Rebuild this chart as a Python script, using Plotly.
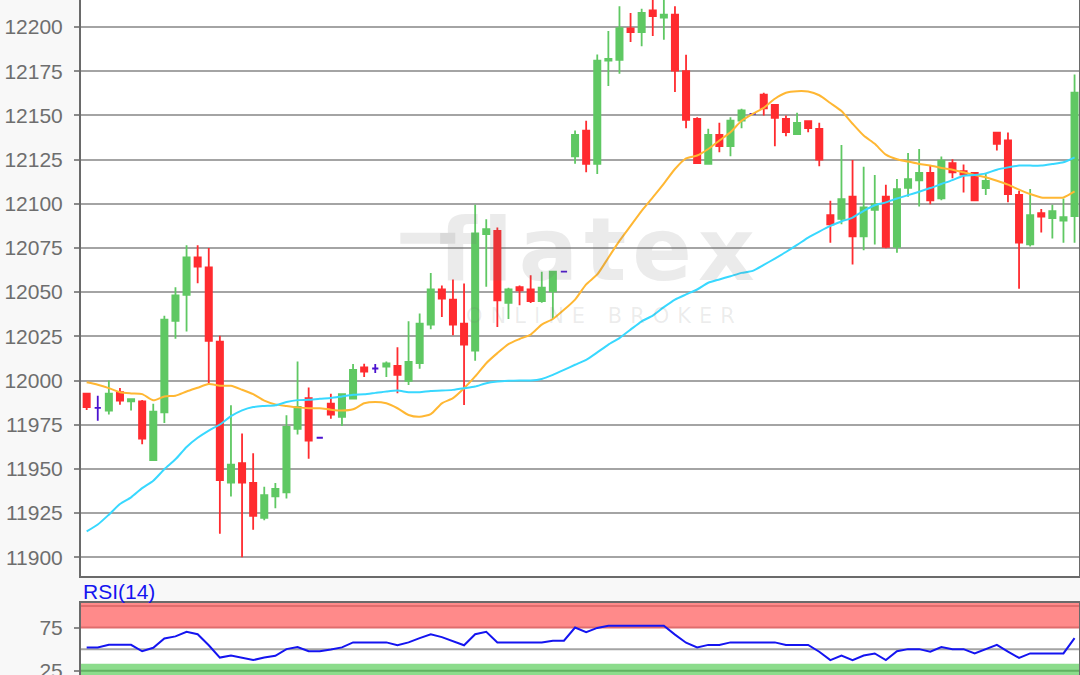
import plotly.graph_objects as go
from plotly.subplots import make_subplots

# index candles by position, the chart has no x labels
opens = [11992.5, 11984.5, 11983.0, 11993.4, 11988.2, 11988.2, 11954.9, 11982.0, 12033.8, 12048.5,
         12069.7, 12064.0, 12022.0, 11942.3, 11953.2, 11942.0, 11922.3, 11934.4, 11936.7, 11972.7,
         11990.0, 11967.6, 11986.9, 11979.4, 11989.7, 12007.4, 12006.8, 12007.8, 12008.3, 11999.8,
         12009.8, 12031.6, 12051.5, 12045.8, 12032.2, 12016.9, 12082.8, 12084.7, 12044.0, 12052.8,
         12051.5, 12044.9, 12050.4, 12061.6, 12126.9, 12141.4, 12122.6, 12181.0, 12181.5, 12199.2,
         12197.2, 12209.4, 12205.3, 12207.0, 12175.0, 12148.0, 12122.6, 12139.0, 12132.6, 12147.0,
         12150.9, 12161.7, 12156.0, 12148.0, 12139.4, 12146.7, 12142.4, 12093.6, 12091.5, 12104.0,
         12081.6, 12096.6, 12104.0, 12075.6, 12109.0, 12113.3, 12117.4, 12103.0, 12123.0, 12118.4,
         12117.4, 12108.9, 12140.2, 12135.8, 12105.0, 12077.0, 12094.7, 12091.9, 12090.5, 12093.0]
highs = [11992.5, 11991.4, 12000.0, 11995.7, 11990.0, 11989.0, 11986.9, 12036.6, 12052.7, 12076.5,
         12076.5, 12075.0, 12025.3, 11986.0, 11970.0, 11958.8, 11939.9, 11942.0, 11980.3, 12010.7,
         11996.0, 11967.6, 11992.5, 11992.3, 12009.4, 12009.5, 12009.3, 12010.8, 12018.8, 12033.5,
         12037.9, 12060.8, 12053.8, 12057.2, 12054.9, 12099.4, 12091.3, 12086.6, 12052.5, 12053.8,
         12059.5, 12061.6, 12061.6, 12061.6, 12141.4, 12147.0, 12184.5, 12197.7, 12211.7, 12208.0,
         12210.4, 12216.0, 12216.0, 12211.7, 12184.3, 12149.0, 12142.4, 12145.8, 12149.0, 12153.7,
         12150.9, 12162.8, 12156.0, 12150.0, 12151.5, 12146.7, 12145.8, 12101.7, 12133.3, 12124.8,
         12121.0, 12116.3, 12110.8, 12114.0, 12128.8, 12131.0, 12121.4, 12126.7, 12125.2, 12122.2,
         12117.4, 12116.9, 12140.2, 12140.3, 12107.4, 12108.3, 12097.0, 12099.4, 12103.0, 12173.1]
lows = [11983.3, 11977.3, 11980.7, 11986.3, 11983.0, 11963.9, 11954.9, 11976.0, 12023.6, 12027.8,
        12055.0, 11998.0, 11913.3, 11934.4, 11900.0, 11915.5, 11921.0, 11927.7, 11933.3, 11969.5,
        11955.8, 11967.6, 11978.3, 11974.2, 11989.7, 12002.0, 12004.2, 12002.0, 11992.8, 11997.5,
        12006.6, 12029.0, 12036.0, 12025.6, 11986.2, 12011.2, 12053.0, 12030.3, 12034.8, 12042.6,
        12043.9, 12044.0, 12034.8, 12061.6, 12122.6, 12117.8, 12116.9, 12166.6, 12173.6, 12191.5,
        12189.2, 12194.9, 12192.8, 12163.2, 12142.8, 12122.6, 12122.6, 12129.2, 12126.9, 12142.8,
        12150.9, 12150.0, 12132.6, 12138.2, 12139.4, 12140.5, 12121.2, 12078.0, 12088.4, 12065.7,
        12073.7, 12077.0, 12074.8, 12072.3, 12104.0, 12098.5, 12099.8, 12102.0, 12114.4, 12106.4,
        12102.0, 12105.0, 12130.1, 12100.8, 12051.9, 12075.8, 12083.7, 12080.3, 12078.0, 12078.0]
closes = [11985.0, 11984.5, 11992.5, 11988.6, 11989.5, 11967.2, 11982.4, 12034.4, 12048.2, 12069.7,
          12064.4, 12022.5, 11943.6, 11952.4, 11942.3, 11923.4, 11935.2, 11938.6, 11973.8, 11985.0,
          11966.0, 11967.6, 11980.7, 11992.3, 12006.0, 12005.0, 12006.8, 12009.7, 12003.2, 12010.6,
          12032.2, 12051.5, 12046.4, 12031.6, 12020.3, 12083.3, 12085.6, 12045.3, 12051.5, 12051.0,
          12044.9, 12052.5, 12061.6, 12061.6, 12139.0, 12122.6, 12181.0, 12182.0, 12199.4, 12197.2,
          12208.0, 12206.2, 12207.0, 12175.4, 12147.5, 12123.0, 12139.0, 12132.6, 12147.0, 12152.8,
          12150.9, 12154.0, 12148.6, 12140.5, 12145.8, 12142.8, 12125.0, 12088.4, 12102.6, 12081.6,
          12097.9, 12099.8, 12075.6, 12108.3, 12114.0, 12117.4, 12102.0, 12124.4, 12117.8, 12116.5,
          12102.0, 12112.9, 12133.9, 12105.5, 12078.0, 12093.6, 12092.8, 12095.8, 12092.4, 12162.9]

ma_orange = [11999.0, 11997.6, 11995.7, 11993.4, 11992.7, 11992.3, 11988.8, 11991.0, 11991.4, 11993.8,
             11995.9, 11998.0, 11997.0, 11997.0, 11994.8, 11992.3, 11988.6, 11986.5, 11985.6, 11984.8,
             11984.3, 11984.3, 11983.5, 11983.0, 11983.7, 11987.1, 11987.9, 11987.1, 11984.3, 11980.5,
             11979.5, 11981.0, 11987.1, 11990.0, 11995.6, 12002.3, 12009.8, 12015.5, 12020.6, 12023.5,
             12026.0, 12031.6, 12034.8, 12040.0, 12045.8, 12054.4, 12060.0, 12069.5, 12079.0, 12087.5,
             12096.0, 12103.6, 12111.4, 12119.7, 12125.7, 12127.3, 12131.0, 12135.8, 12140.5, 12147.0,
             12150.9, 12154.3, 12159.4, 12162.8, 12163.7, 12163.5, 12161.4, 12157.0, 12152.5, 12145.3,
             12138.6, 12133.9, 12127.8, 12125.2, 12123.9, 12122.5, 12121.6, 12120.3, 12119.3, 12117.8,
             12116.3, 12115.0, 12113.0, 12110.8, 12108.0, 12105.5, 12103.6, 12103.4, 12103.6, 12107.0]
ma_cyan = [11914.6, 11918.5, 11924.1, 11930.1, 11933.9, 11939.1, 11943.3, 11949.8, 11955.4, 11962.4,
           11967.6, 11971.7, 11975.1, 11979.8, 11983.1, 11985.0, 11985.6, 11986.0, 11987.8, 11988.9,
           11989.1, 11989.7, 11990.1, 11991.0, 11991.9, 11992.2, 11993.0, 11993.8, 11994.3, 11993.4,
           11993.4, 11994.1, 11994.3, 11994.7, 11995.6, 11996.6, 11998.5, 11999.4, 11999.8, 12000.0,
           12000.0, 12000.9, 12003.2, 12006.0, 12008.9, 12011.7, 12015.9, 12020.3, 12024.0, 12028.8,
           12033.5, 12036.7, 12041.5, 12045.8, 12048.7, 12051.5, 12055.3, 12057.2, 12059.0, 12060.9,
           12062.0, 12065.4, 12069.0, 12072.7, 12076.7, 12080.9, 12084.3, 12087.5, 12090.0, 12092.2,
           12096.0, 12099.2, 12100.8, 12103.0, 12104.9, 12106.8, 12108.9, 12111.2, 12113.4, 12115.9,
           12116.3, 12117.2, 12119.3, 12120.6, 12121.6, 12121.6, 12121.6, 12122.5, 12123.5, 12126.3]
rsi = [52, 52, 55, 55, 55, 47.5, 51.6, 62.3, 64.8, 70,
       67.2, 54.5, 40.2, 42.6, 40.2, 37.3, 40.2, 42.2, 50, 52.5,
       47.5, 47.5, 49.6, 52, 57.8, 57.8, 57.8, 57.8, 54.5, 57.8,
       62.7, 67.2, 63.9, 59.4, 54.5, 67.2, 70, 57.8, 57.8, 57.8,
       57.8, 57.6, 59.8, 59.8, 75, 69.7, 74.6, 77, 77, 77,
       77, 77, 77, 66.8, 57.4, 52, 54.9, 54.9, 57.8, 57.8,
       57.8, 57.8, 57.8, 54.9, 54.9, 54.9, 47, 37.3, 42.6, 37.3,
       42.6, 45, 37.3, 47.5, 50, 50, 47, 52.5, 50, 50,
       45, 50, 54.9, 47, 39.8, 45, 45, 45, 45, 62.7]

price_ticks = [11900, 11925, 11950, 11975, 12000, 12025, 12050, 12075, 12100, 12125, 12150, 12175, 12200]
rsi_ticks = [25, 75]

idx = list(range(len(opens)))
flat = [i for i in idx if opens[i] == closes[i]]
moved = [i for i in idx if opens[i] != closes[i]]

GREEN = "#5fc863"
RED = "#ff2b2f"
PURPLE = "#4b12cf"
AXIS = "#6a6a6a"
GRID = "#a4a4a4"
TEXT = "#6e6e6e"
FONT = "Liberation Sans"

fig = make_subplots(rows=2, cols=1, shared_xaxes=False)

fig.add_trace(go.Candlestick(
    x=moved,
    open=[opens[i] for i in moved], high=[highs[i] for i in moved],
    low=[lows[i] for i in moved], close=[closes[i] for i in moved],
    increasing=dict(line=dict(color=GREEN, width=1.8), fillcolor=GREEN),
    decreasing=dict(line=dict(color=RED, width=1.8), fillcolor=RED),
    showlegend=False), row=1, col=1)
fig.add_trace(go.Candlestick(
    x=flat,
    open=[opens[i] for i in flat], high=[highs[i] for i in flat],
    low=[lows[i] for i in flat], close=[closes[i] for i in flat],
    increasing=dict(line=dict(color=PURPLE, width=1.8), fillcolor=PURPLE),
    decreasing=dict(line=dict(color=PURPLE, width=1.8), fillcolor=PURPLE),
    showlegend=False), row=1, col=1)
fig.add_trace(go.Scatter(x=idx, y=ma_orange, mode="lines",
                         line=dict(color="#ffb733", width=2, shape="spline", smoothing=0.6),
                         showlegend=False), row=1, col=1)
fig.add_trace(go.Scatter(x=idx, y=ma_cyan, mode="lines",
                         line=dict(color="#38d8ff", width=2, shape="spline", smoothing=0.6),
                         showlegend=False), row=1, col=1)
fig.add_trace(go.Scatter(x=idx, y=rsi, mode="lines", line=dict(color="#1414f0", width=2),
                         showlegend=False), row=2, col=1)

# overbought / oversold bands
fig.add_shape(type="rect", xref="x2 domain", yref="y2", x0=0, x1=1, y0=75, y1=104,
              fillcolor="#ff8a8a", line_width=0, layer="below")
fig.add_shape(type="rect", xref="x2 domain", yref="y2", x0=0, x1=1, y0=15, y1=33,
              fillcolor="#8cdc8c", line_width=0, layer="below")
for level, colour in [(100, "#e06c6c"), (75, "#e06c6c"), (50, GRID), (25, "#62b262")]:
    fig.add_shape(type="line", xref="x2 domain", yref="y2", x0=0, x1=1, y0=level, y1=level,
                  line=dict(color=colour, width=2), layer="below")

# watermark
fig.add_annotation(xref="paper", yref="paper", x=0.52, y=0.63, text="flatex", showarrow=False,
                   font=dict(family="DejaVu Sans", size=88, weight="bold", color="rgba(110,110,110,0.14)"))
fig.add_annotation(xref="paper", yref="paper", x=0.525, y=0.532, text="ONLINE BROKER", showarrow=False,
                   font=dict(family="DejaVu Sans", size=21, color="rgba(110,110,110,0.13)"))
fig.add_shape(type="line", xref="paper", yref="paper", x0=0.32, x1=0.375, y0=0.647, y1=0.647,
              line=dict(color="rgba(110,110,110,0.14)", width=11))

fig.add_annotation(xref="paper", yref="paper", x=0, y=0.123, xanchor="left", yanchor="middle",
                   text="RSI(14)", showarrow=False,
                   font=dict(family=FONT, size=21, color="#1414f0"))

axis_common = dict(showline=True, linecolor=AXIS, linewidth=2, mirror=True, ticks="outside", ticklen=5,
                   tickcolor="#8a8a8a", tickwidth=2, ticklabelstandoff=7, tickformat="d", automargin=False,
                   ticklabeloverflow="allow", tickfont=dict(family=FONT, size=21, color=TEXT))
fig.update_yaxes(range=[11889.4, 12215.3], domain=[0.1467, 1.0], tickmode="array", tickvals=price_ticks,
                 showgrid=True, gridcolor=GRID, gridwidth=2, zeroline=False, row=1, col=1, **axis_common)
fig.update_yaxes(range=[20, 103.5], domain=[0.0, 0.1067], tickmode="array", tickvals=rsi_ticks,
                 showgrid=False, zeroline=False, row=2, col=1, **axis_common)
fig.update_xaxes(range=[-0.51, 89.4], showticklabels=False, showgrid=False, zeroline=False, ticks="",
                 automargin=False, showline=True, linecolor=AXIS, linewidth=2,
                 rangeslider=dict(visible=False), row=1, col=1)
fig.update_xaxes(range=[-0.51, 89.4], showticklabels=False, showgrid=False, zeroline=False, ticks="",
                 automargin=False, showline=True, linecolor=AXIS, linewidth=2, side="top", row=2, col=1)

fig.update_layout(width=1080, height=675, margin=dict(l=81, r=1, t=0, b=0),
                  paper_bgcolor="#f8f8f8", plot_bgcolor="#ffffff", boxgap=0.2, showlegend=False,
                  font=dict(family=FONT))

# page default margin would push the chart 8px in; watermark letters are spaced out
post = """
document.body.style.margin = '0';
document.body.style.overflow = 'hidden';
document.querySelectorAll('.annotation-text').forEach(function (t) {
    if (t.textContent === 'flatex') t.style.letterSpacing = '6px';
    if (t.textContent === 'ONLINE BROKER') t.style.letterSpacing = '8px';
});
"""
fig.write_html("out.html", config={"displayModeBar": False}, post_script=post)
